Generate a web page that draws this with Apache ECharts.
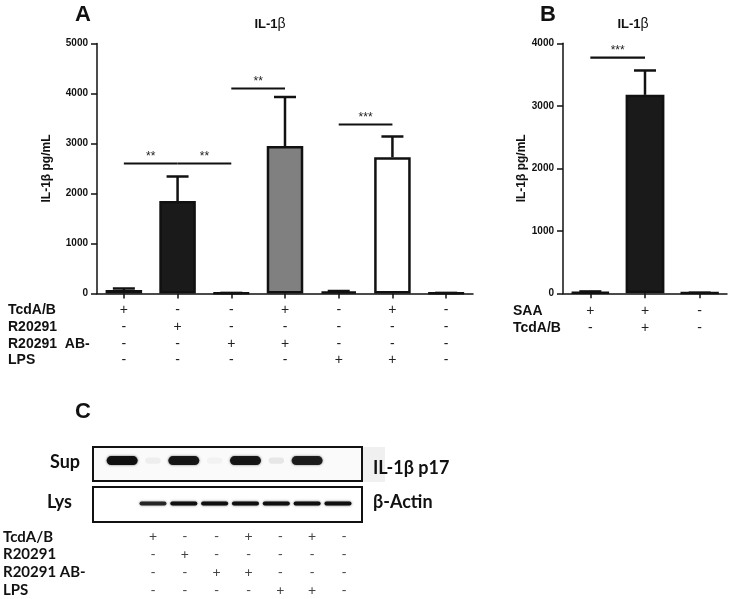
<!DOCTYPE html>
<html><head><meta charset="utf-8">
<script src="https://cdn.jsdelivr.net/npm/echarts@6/dist/echarts.min.js"></script>
<style>html,body{margin:0;padding:0;background:#fff}#c{width:740px;height:599px}</style>
</head><body><div id="c"></div>
<script>
// ---------- data ----------
const catsA = ['1','2','3','4','5','6','7'];
const meanA = [70, 1850, 10, 2950, 40, 2725, 10];
const semA  = [30, 490, 2, 980, 10, 415, 2];
const catsB = ['1','2','3'];
const meanB = [20, 3175, 8];
const semB  = [10, 390, 2];
const sigA = [[0, 0.95, 2600, '**'], [1.07, 2, 2600, '**'], [2, 2.96, 4100, '**'], [4, 5, 3380, '***']];
const sigB = [[-0.21, 1, 3770, '***']];
const rowsA = ['TcdA/B', 'R20291', 'R20291  AB-', 'LPS'];
const signsA = [
  ['+','-','-','+','-','+','-'],
  ['-','+','-','-','-','-','-'],
  ['-','-','+','+','-','-','-'],
  ['-','-','-','-','+','+','-']
];
const rowsB = ['SAA', 'TcdA/B'];
const signsB = [
  ['+','+','-'],
  ['-','+','-']
];
const rowsC = ['TcdA/B', 'R20291', 'R20291 AB-', 'LPS'];
const signsC = [
  ['+','-','-','+','-','+','-'],
  ['-','+','-','-','-','-','-'],
  ['-','-','+','+','-','-','-'],
  ['-','-','-','-','+','+','-']
];
const lanesC = [0,1,2,3,4,5,6,7];
const supBand = [1, 0.05, 0.95, 0.03, 0.95, 0.08, 0.9, 0];
const lysBand = [0, 0.85, 1, 1, 1, 1, 1, 1];

// ---------- styles ----------
const fillA = ['#ffffff','#1a1a1a','#ffffff','#808080','#1a1a1a','#ffffff','#ffffff'];
const fillB = ['#ffffff','#1a1a1a','#ffffff'];
const AR = 'Arial, "Liberation Sans", sans-serif';
const CF = 'Lato, "Open Sans", sans-serif';

const chart = echarts.init(document.getElementById('c'), null, {renderer:'canvas'});

function valueY(max, grid, gap) {
  return {
    type:'value', gridIndex:grid, min:0, max:max, interval:1000,
    name:'IL-1β pg/mL', nameLocation:'middle', nameGap:gap,
    nameTextStyle:{fontFamily:AR, fontWeight:'bold', fontSize:12, color:'#111'},
    axisLine:{show:true, lineStyle:{color:'#111', width:1.5}},
    axisTick:{show:true, length:6, lineStyle:{color:'#111', width:1.5}},
    axisLabel:{fontFamily:AR, fontWeight:'bold', fontSize:10, color:'#111', margin:9, formatter:v=>String(v)},
    splitLine:{show:false}
  };
}
function catX(cats, grid) {
  return {
    type:'category', gridIndex:grid, data:cats,
    axisLine:{show:true, lineStyle:{color:'#111', width:1.5}},
    axisTick:{show:true, alignWithLabel:true, length:5, lineStyle:{color:'#111', width:1.5}},
    axisLabel:{show:false}
  };
}
function hiddenCat(cats, grid) {
  return {type:'category', gridIndex:grid, data:cats, show:false};
}
function rowY(rows, grid, margin, font, size) {
  return {
    type:'category', gridIndex:grid, data:rows, inverse:true,
    axisLine:{show:false}, axisTick:{show:false},
    axisLabel:{show:true, interval:0, align:'left', margin:margin, fontFamily:font, fontWeight:'bold', fontSize:size, color:'#111'}
  };
}
function barSeries(vals, fills, xi, yi, bw) {
  return {
    type:'bar', xAxisIndex:xi, yAxisIndex:yi, barWidth:bw, silent:true,
    data: vals.map((v,i)=>({value:v, itemStyle:{color:fills[i], borderColor:'#111', borderWidth:2.5}})),
    z:3
  };
}
function errSeries(means, sems, xi, yi) {
  return {
    type:'custom', xAxisIndex:xi, yAxisIndex:yi, silent:true, z:2,
    data: means.map((m,i)=>[i, m, m + sems[i]]),
    renderItem(params, api) {
      const a = api.coord([api.value(0), api.value(1)]);
      const b = api.coord([api.value(0), api.value(2)]);
      const s = {stroke:'#111', lineWidth:2.5};
      return {type:'group', children:[
        {type:'line', shape:{x1:a[0], y1:a[1], x2:b[0], y2:b[1]}, style:s},
        {type:'line', shape:{x1:b[0]-11, y1:b[1], x2:b[0]+11, y2:b[1]}, style:s}
      ]};
    }
  };
}
function sigSeries(sig, xi, yi) {
  return {
    type:'custom', xAxisIndex:xi, yAxisIndex:yi, silent:true, z:4,
    data: sig.map(s=>[s[0], s[1], s[2]]),
    renderItem(params, api) {
      const a = api.coord([api.value(0), api.value(2)]);
      const b = api.coord([api.value(1), api.value(2)]);
      return {type:'group', children:[
        {type:'line', shape:{x1:a[0], y1:a[1], x2:b[0], y2:b[1]}, style:{stroke:'#111', lineWidth:2.2}},
        {type:'text', x:(a[0]+b[0])/2, y:a[1]-7, style:{text:sig[params.dataIndex][3], fontFamily:AR, fontSize:12, fill:'#222', align:'center', verticalAlign:'middle'}}
      ]};
    }
  };
}
function signSeries(signs, xi, yi, font, size, color, offset) {
  const flat = [];
  signs.forEach((row, r)=>row.forEach((s, c)=>flat.push([c + offset, r, s])));
  return {
    type:'custom', xAxisIndex:xi, yAxisIndex:yi, silent:true,
    data: flat.map(d=>[d[0], d[1]]),
    renderItem(params, api) {
      const p = api.coord([api.value(0), api.value(1)]);
      return {type:'text', x:p[0], y:p[1], style:{text:flat[params.dataIndex][2], fontFamily:font, fontSize:size, fill:color, align:'center', verticalAlign:'middle'}};
    }
  };
}
function bandSeries(vals, xi, yi, yPos, w, h) {
  return {
    type:'custom', xAxisIndex:xi, yAxisIndex:yi, silent:true,
    data: lanesC.map((l,i)=>[l, vals[i]]),
    renderItem(params, api) {
      const v = api.value(1);
      if (!(v > 0)) return null;
      const p = api.coord([api.value(0), yPos]);
      const ww = v < 0.5 ? w * 0.5 : w;
      const hh = v < 0.5 ? h * 0.7 : h;
      return {type:'rect', shape:{x:p[0]-ww/2, y:p[1]-hh/2, width:ww, height:hh, r:hh/2},
        style:{fill:'rgba(15,15,15,' + v + ')', shadowBlur:v < 0.5 ? 4 : 2.5, shadowColor:'rgba(0,0,0,' + (0.6*v) + ')'}};
    }
  };
}

const option = {
  animation:false,
  backgroundColor:'#fff',
  grid:[
    {left:97, top:43.5, width:376, height:250},
    {left:563, top:43.3, width:164, height:250},
    {left:97, top:302, width:376, height:67},
    {left:563, top:302, width:164, height:35},
    {left:93, top:447, width:269, height:34, show:true, borderColor:'#111', borderWidth:2, backgroundColor:'#fafafa', z:1},
    {left:93, top:487, width:269, height:35, show:true, borderColor:'#111', borderWidth:2, backgroundColor:'#ffffff', z:1},
    {left:93, top:528, width:269, height:71}
  ],
  xAxis:[
    catX(catsA, 0),
    catX(catsB, 1),
    hiddenCat(catsA, 2),
    hiddenCat(catsB, 3),
    {type:'value', gridIndex:4, min:-0.946, max:7.78, show:false},
    {type:'value', gridIndex:5, min:-0.946, max:7.78, show:false},
    {type:'value', gridIndex:6, min:-0.885, max:7.566, show:false}
  ],
  yAxis:[
    valueY(5000, 0, 44),
    valueY(4000, 1, 35),
    rowY(rowsA, 2, 89, AR, 14),
    rowY(rowsB, 3, 50, AR, 14),
    {type:'value', gridIndex:4, min:0, max:1, show:false},
    {type:'value', gridIndex:5, min:0, max:1, show:false},
    rowY(rowsC, 6, 90, CF, 15)
  ],
  series:[
    barSeries(meanA, fillA, 0, 0, '68%'),
    errSeries(meanA, semA, 0, 0),
    sigSeries(sigA, 0, 0),
    barSeries(meanB, fillB, 1, 1, '71%'),
    errSeries(meanB, semB, 1, 1),
    sigSeries(sigB, 1, 1),
    signSeries(signsA, 2, 2, AR, 14, '#222', 0),
    signSeries(signsB, 3, 3, AR, 14, '#222', 0),
    bandSeries(supBand, 4, 4, 0.6, 31, 9),
    bandSeries(lysBand, 5, 5, 0.53, 27, 4),
    signSeries(signsC, 6, 6, CF, 14, '#444', 1)
  ],
  graphic:[
    {type:'rect', left:362, top:447, shape:{width:23, height:35}, style:{fill:'#f0f0f0'}, z:0},
    {type:'text', x:83, y:15, style:{text:'A', font:'bold 22px ' + AR, fill:'#111', align:'center', verticalAlign:'middle'}},
    {type:'text', x:548, y:15, style:{text:'B', font:'bold 22px ' + AR, fill:'#111', align:'center', verticalAlign:'middle'}},
    {type:'text', x:83, y:412, style:{text:'C', font:'bold 22px ' + AR, fill:'#111', align:'center', verticalAlign:'middle'}},
    {type:'text', x:270, y:24, style:{text:'{a|IL-1}{b|β}', align:'center', verticalAlign:'middle',
      rich:{a:{fontFamily:AR, fontWeight:'bold', fontSize:13, fill:'#111'}, b:{fontFamily:AR, fontSize:14, fill:'#111'}}}},
    {type:'text', x:633, y:24, style:{text:'{a|IL-1}{b|β}', align:'center', verticalAlign:'middle',
      rich:{a:{fontFamily:AR, fontWeight:'bold', fontSize:13, fill:'#111'}, b:{fontFamily:AR, fontSize:14, fill:'#111'}}}},
    {type:'text', x:50, y:462, style:{text:'Sup', font:'bold 18px ' + CF, fill:'#111', align:'left', verticalAlign:'middle'}},
    {type:'text', x:47, y:502, style:{text:'Lys', font:'bold 18px ' + CF, fill:'#111', align:'left', verticalAlign:'middle'}},
    {type:'text', x:373, y:468, style:{text:'IL-1β p17', font:'bold 18px ' + CF, fill:'#111', align:'left', verticalAlign:'middle'}},
    {type:'text', x:373, y:502, style:{text:'β-Actin', font:'bold 18px ' + CF, fill:'#111', align:'left', verticalAlign:'middle'}}
  ]
};
chart.setOption(option);
</script></body></html>
